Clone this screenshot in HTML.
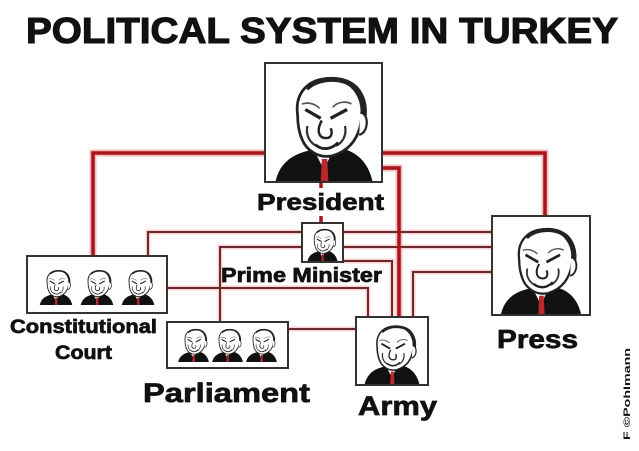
<!DOCTYPE html>
<html><head><meta charset="utf-8"><style>
html,body{margin:0;padding:0;background:#fff;}
svg{display:block;}
text{font-family:"Liberation Sans",Arial,sans-serif;font-weight:bold;fill:#111;}
</style></head><body>
<svg width="639" height="451" viewBox="0 0 639 451" xmlns="http://www.w3.org/2000/svg">
<defs>
<symbol id="f" viewBox="0 0 100 100">
 <path d="M6 100 C10 83 22 75 38 72 L64 70 C80 73 90 83 94 100 Z" fill="#111"/>
 <path d="M42 74 L50 90 L58 72 Z" fill="#fff"/>
 <path d="M48 80 L53 80 L54 100 L47 100 Z" fill="#b8282d"/>
 <path d="M26 40 C23 18 38 6 57 7 C76 8 87 24 84 44 C82 60 74 72 58 77 C45 80 34 72 30 62 C27 55 26 48 26 40 Z" fill="#fff" stroke="#222" stroke-width="2.5"/>
 <path d="M34 16 C46 4 72 5 81 18 C88 28 88 40 84 52" fill="none" stroke="#222" stroke-width="4.5"/>
 <path d="M83 38 C91 38 91 56 82 58" fill="#fff" stroke="#222" stroke-width="2"/>
 <path d="M33 35 L47 43 M56 43 L71 35" stroke="#222" stroke-width="3" fill="none"/>
 <path d="M30 30 C36 28 42 30 46 34 M58 33 C62 28 70 27 75 30" stroke="#555" stroke-width="1.5" fill="none"/>
 <path d="M48 45 C43 54 45 61 52 61 C57 61 58 56 56 52" fill="none" stroke="#222" stroke-width="2.2"/>
 <path d="M35 50 C33 58 37 65 43 68 M69 50 C71 58 67 65 61 68" fill="none" stroke="#333" stroke-width="2"/>
 <path d="M42 67 C48 72 56 72 63 65" fill="none" stroke="#222" stroke-width="2.6"/>
</symbol>
</defs>

<!-- title -->
<text x="26" y="43" font-size="36" textLength="592" lengthAdjust="spacingAndGlyphs" stroke="#111" stroke-width="1.1">POLITICAL SYSTEM IN TURKEY</text>

<!-- glow layers -->
<g fill="none" stroke="#f8d2d2" stroke-width="5" stroke-linejoin="miter">
 <path d="M148 256 V232 H302"/>
 <path d="M343 232 H492"/>
 <path d="M220 322 V247 H302"/>
 <path d="M343 247 H492"/>
 <path d="M343 261 H392 V317"/>
 <path d="M492 272 H413 V317"/>
 <path d="M167 288 H368 V317"/>
 <path d="M288 329 H356"/>
</g>
<g fill="none" stroke="#f4bcbc" stroke-width="7" stroke-linejoin="miter">
 <path d="M265 153 H93 V256"/>
 <path d="M382 153 H545 V216"/>
 <path d="M382 168 H399 V317"/>
</g>
<!-- thin lines -->
<g fill="none" stroke="#6a2a2c" stroke-width="2">
 <path d="M148 256 V232 H302"/>
 <path d="M343 232 H492"/>
 <path d="M220 322 V247 H302"/>
 <path d="M343 247 H492"/>
 <path d="M343 261 H392 V317"/>
 <path d="M492 272 H413 V317"/>
 <path d="M167 288 H368 V317"/>
 <path d="M288 329 H356"/>
</g>
<!-- thick lines -->
<g fill="none" stroke="#a8141c" stroke-width="3.5">
 <path d="M265 153 H93 V256"/>
 <path d="M382 153 H545 V216"/>
 <path d="M382 168 H399 V317"/>
 <path d="M321 182 V188"/>
 <path d="M321 216 V223"/>
</g>

<!-- boxes -->
<g fill="#fff" stroke="#333" stroke-width="2">
 <rect x="265" y="63" width="117" height="119"/>
 <rect x="302" y="223" width="41" height="39"/>
 <rect x="492" y="216" width="98" height="99"/>
 <rect x="356" y="317" width="72" height="68"/>
 <rect x="27" y="256" width="140" height="57"/>
 <rect x="167" y="322" width="121" height="46"/>
</g>

<!-- faces -->
<use href="#f" x="268" y="71" width="112" height="110"/>
<use href="#f" x="304" y="227" width="37" height="34"/>
<use href="#f" x="495" y="223" width="92" height="91"/>
<use href="#f" x="359" y="322" width="66" height="62"/>
<use href="#f" x="36" y="268" width="40" height="37"/>
<use href="#f" x="77" y="268" width="40" height="37"/>
<use href="#f" x="118" y="268" width="40" height="37"/>
<use href="#f" x="176" y="326" width="35" height="37"/>
<use href="#f" x="210" y="326" width="35" height="37"/>
<use href="#f" x="244" y="326" width="35" height="37"/>

<!-- labels -->
<g stroke="#111" stroke-width="0.7">
<text x="257" y="210" font-size="23" textLength="127" lengthAdjust="spacingAndGlyphs">President</text>
<text x="221" y="282" font-size="20" textLength="161" lengthAdjust="spacingAndGlyphs">Prime Minister</text>
<text x="10" y="333" font-size="19" textLength="147" lengthAdjust="spacingAndGlyphs">Constitutional</text>
<text x="55" y="359" font-size="19" textLength="57" lengthAdjust="spacingAndGlyphs">Court</text>
<text x="143" y="402" font-size="27" textLength="167" lengthAdjust="spacingAndGlyphs">Parliament</text>
<text x="358" y="415" font-size="27" textLength="79" lengthAdjust="spacingAndGlyphs">Army</text>
<text x="497" y="348" font-size="26" textLength="81" lengthAdjust="spacingAndGlyphs">Press</text>
</g>

<!-- watermark -->
<text transform="translate(630,440) rotate(-90)" font-size="9" font-weight="normal" fill="#333" textLength="92" lengthAdjust="spacingAndGlyphs">F ©Pohlmann</text>
</svg>
</body></html>
